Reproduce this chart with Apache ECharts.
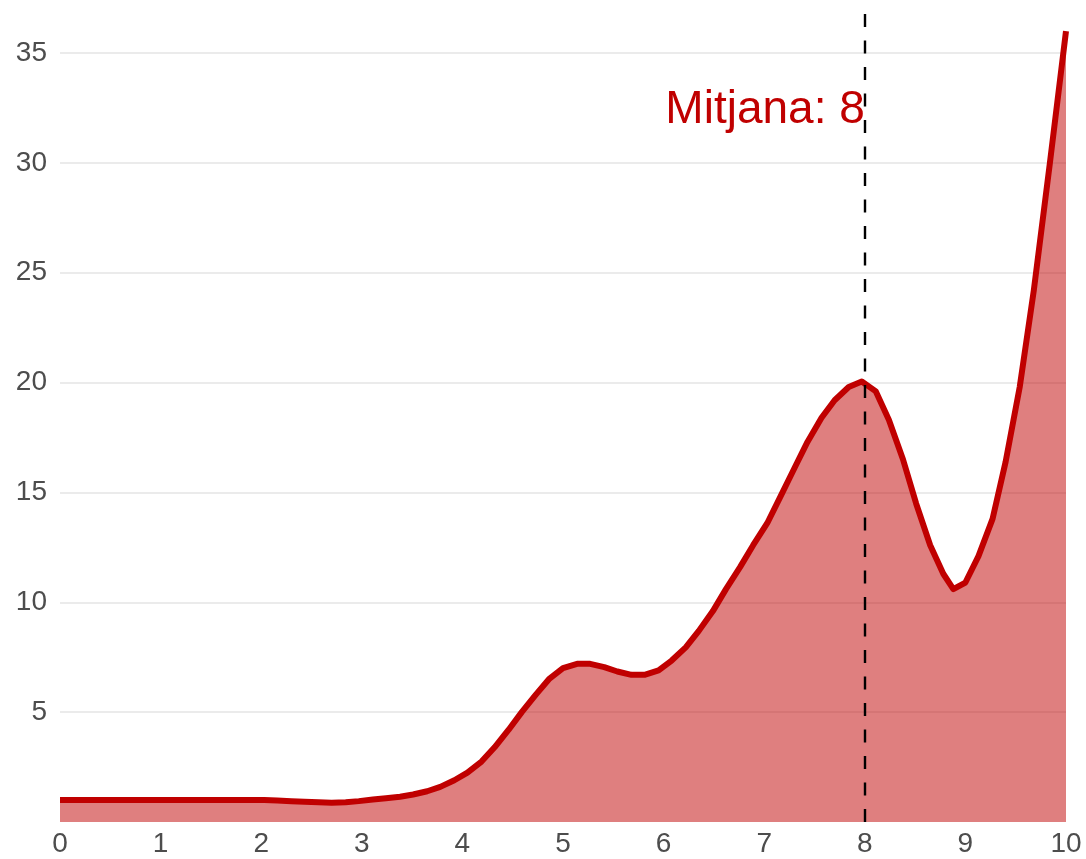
<!DOCTYPE html>
<html>
<head>
<meta charset="utf-8">
<script src="https://cdn.jsdelivr.net/npm/echarts@6/dist/echarts.min.js"></script>
<style>
html,body{margin:0;padding:0;background:#fff;}
#chart{width:1086px;height:859px;}
</style>
</head>
<body>
<div id="chart"></div>
<script>
// Density-like curve: x positions and values
const xValues = [0.00,0.14,0.27,0.41,0.54,0.68,0.81,0.95,1.08,1.22,1.35,1.49,1.62,1.76,1.89,2.03,2.16,2.30,2.43,2.57,2.70,2.84,2.97,3.11,3.24,3.38,3.51,3.65,3.78,3.92,4.05,4.19,4.32,4.46,4.59,4.73,4.86,5.00,5.14,5.27,5.41,5.54,5.68,5.81,5.95,6.08,6.22,6.35,6.49,6.62,6.76,6.89,7.03,7.16,7.30,7.43,7.57,7.70,7.84,7.97,8.11,8.24,8.38,8.51,8.65,8.78,8.88,9.00,9.13,9.27,9.40,9.54,9.68,9.84,10.00];
const yValues = [1.0,1.0,1.0,1.0,1.0,1.0,1.0,1.0,1.0,1.0,1.0,1.0,1.0,1.0,1.0,1.0,0.98,0.95,0.92,0.9,0.88,0.9,0.95,1.02,1.08,1.15,1.25,1.4,1.6,1.9,2.25,2.75,3.4,4.2,5.0,5.8,6.5,7.0,7.2,7.2,7.05,6.85,6.7,6.7,6.9,7.35,7.95,8.7,9.6,10.6,11.6,12.6,13.6,14.8,16.1,17.3,18.4,19.2,19.8,20.05,19.6,18.3,16.5,14.5,12.6,11.3,10.6,10.9,12.1,13.8,16.4,19.8,24.2,30.0,36.0];
const xTicks = [0,1,2,3,4,5,6,7,8,9,10];
const yTicks = [5,10,15,20,25,30,35];
const meanValue = 8;
const meanLabel = 'Mitjana: 8';
const labelY = 32.4;

const chart = echarts.init(document.getElementById('chart'), null, {renderer: 'canvas'});
const font = '"Liberation Sans", Arial, sans-serif';
chart.setOption({
  animation: false,
  backgroundColor: '#ffffff',
  grid: {left: 60, right: 20, top: 12, bottom: 37, containLabel: false},
  xAxis: {
    type: 'value', min: xTicks[0], max: xTicks[xTicks.length - 1], interval: 1,
    axisLine: {show: false}, axisTick: {show: false}, splitLine: {show: false},
    axisLabel: {color: '#4d4d4d', fontSize: 28, fontFamily: font, margin: 8,
      formatter: v => xTicks.includes(v) ? String(v) : ''}
  },
  yAxis: {
    type: 'value', min: 0, max: 36.87, interval: 5,
    axisLine: {show: false}, axisTick: {show: false},
    splitLine: {show: true, showMinLine: false, showMaxLine: false, lineStyle: {color: '#ebebeb', width: 2}},
    axisLabel: {color: '#4d4d4d', fontSize: 28, fontFamily: font, margin: 13,
      showMinLabel: false, showMaxLabel: false,
      formatter: v => yTicks.includes(v) ? String(v) : ''}
  },
  series: [{
    type: 'line',
    data: xValues.map((x, i) => [x, yValues[i]]),
    showSymbol: false,
    symbol: 'none',
    smooth: false,
    lineStyle: {color: '#c00000', width: 6, cap: 'butt', join: 'round'},
    areaStyle: {color: '#c00000', opacity: 0.5, origin: 'start'},
    z: 2,
    markLine: {
      silent: true, symbol: 'none', animation: false,
      label: {show: false},
      lineStyle: {color: '#000000', type: [13, 13.5], width: 2.4},
      data: [{xAxis: meanValue}]
    },
    markPoint: {
      silent: true, symbol: 'circle', symbolSize: 0,
      label: {show: true, position: 'left', distance: 0, formatter: meanLabel,
        color: '#c00000', fontSize: 46, fontFamily: font},
      data: [{coord: [meanValue, labelY]}]
    }
  }]
});
</script>
</body>
</html>
